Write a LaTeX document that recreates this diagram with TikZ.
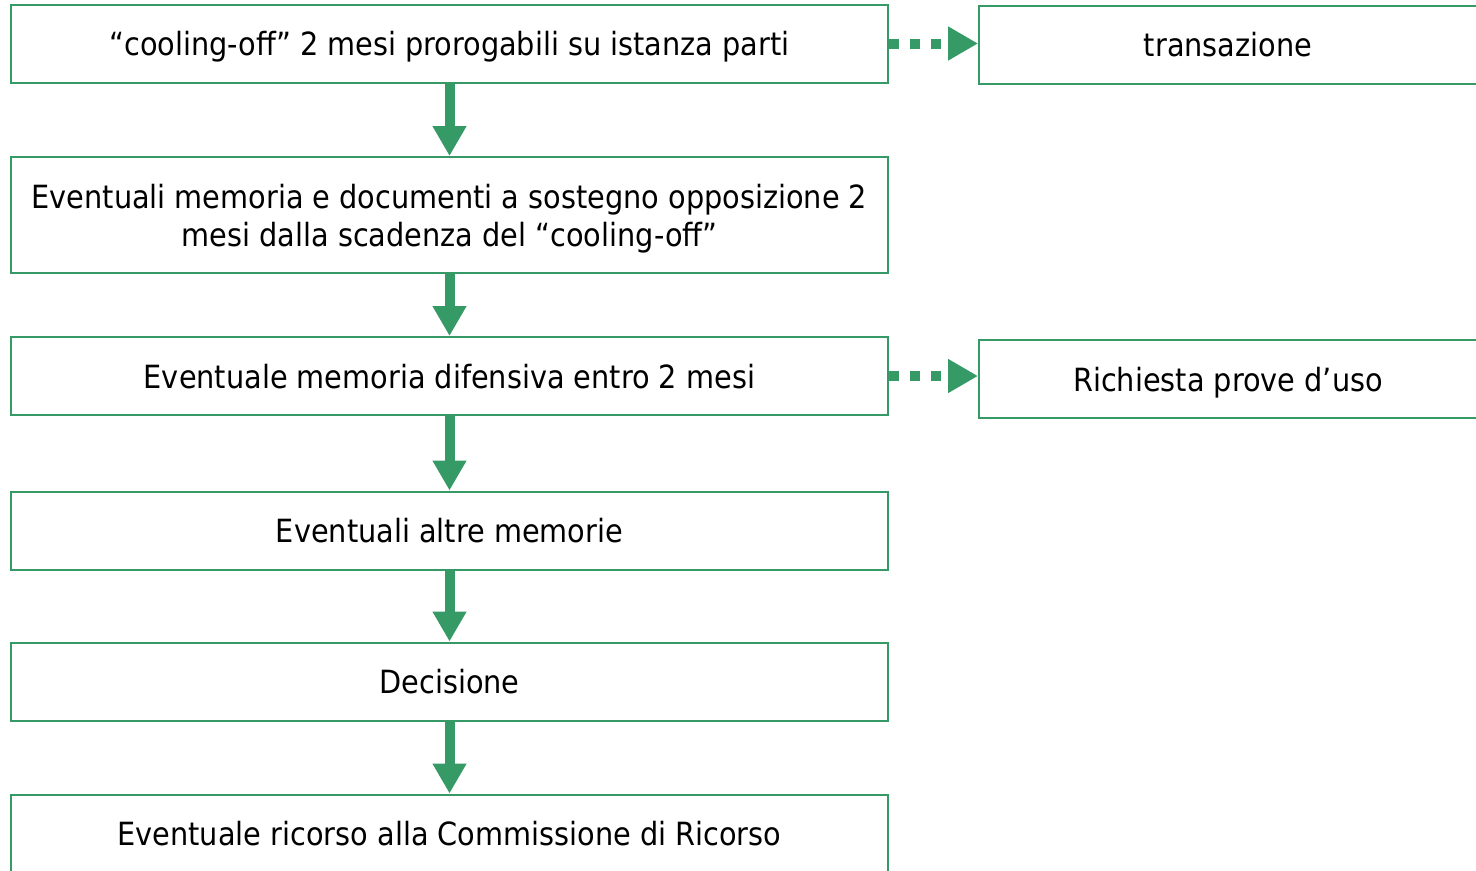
\documentclass[tikz,border=0pt]{standalone}
\usepackage{fontspec}
\setmainfont{DejaVu Sans Condensed}
\usetikzlibrary{arrows.meta}
\definecolor{procgreen}{RGB}{53,154,102}
\tikzset{stepbox/.style={draw=procgreen, line width=0.04cm, minimum width=17.54cm, minimum height=1.56cm, inner sep=0pt, align=center, text depth=0pt, font=\fontsize{18.2}{21.6}\selectfont}}
\tikzset{sidebox/.style={stepbox, minimum width=9.96cm}}
\tikzset{flow/.style={procgreen, line width=0.2cm, -{Triangle[width=0.64cm, length=0.6cm]}}}
\tikzset{optflow/.style={flow, dash pattern=on 0.2cm off 0.22cm}}
\begin{document}
\begin{tikzpicture}[x=0.02cm, y=-0.02cm]
            \useasboundingbox (0, 0) rectangle (1476, 870);
            \clip (0, 0) rectangle (1476, 870);
            \node[stepbox] (cooling) at (449.5, 43.5) {“cooling-off” 2 mesi prorogabili su istanza parti};
            \node[stepbox, minimum height=2.32cm] (memoria) at (449.5, 215) {Eventuali memoria e documenti a sostegno opposizione 2\\mesi dalla scadenza del “cooling-off”};
            \node[stepbox] (difesa) at (449.5, 376) {Eventuale memoria difensiva entro 2 mesi};
            \node[stepbox] (altre) at (449.5, 530.5) {Eventuali altre memorie};
            \node[stepbox] (decisione) at (449.5, 681.5) {Decisione};
            \node[stepbox] (ricorso) at (449.5, 833.5) {Eventuale ricorso alla Commissione di Ricorso};
            \node[sidebox] (transazione) at (1228, 44.5) {transazione};
            \node[sidebox] (prove) at (1228, 379) {Richiesta prove d’uso};
            \draw[flow] (cooling) -- (memoria);
            \draw[flow] (memoria) -- (difesa);
            \draw[flow] (difesa) -- (altre);
            \draw[flow] (altre) -- (decisione);
            \draw[flow] (decisione) -- (ricorso);
            \draw[optflow] (cooling.east) -- (cooling.east -| transazione.west);
            \draw[optflow] (difesa.east) -- (difesa.east -| prove.west);
        \end{tikzpicture}
\end{document}
